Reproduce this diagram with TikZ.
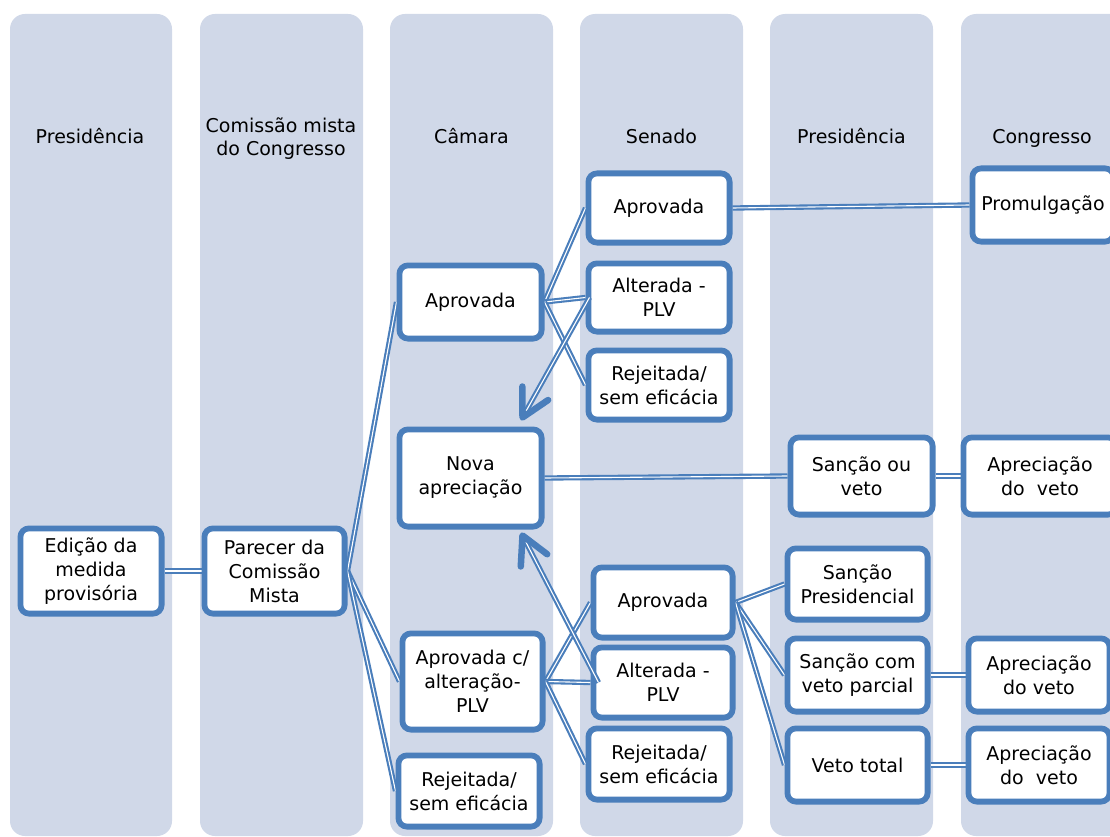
\documentclass[tikz,border=0pt]{standalone}
\usepackage{fontspec}
\setmainfont{DejaVu Sans}
\usetikzlibrary{calc}
\definecolor{colbg}{HTML}{D0D8E8}
\definecolor{bc}{HTML}{4A7EBB}
\pgfdeclarelayer{bg}
\pgfsetlayers{bg,main}
\tikzset{
 bx/.style={draw=bc, line width=5pt, fill=white, rounded corners=9pt, inner sep=0pt, align=center, font=\fontsize{19}{24}\selectfont},
 inb/.style={draw=bc, line width=1.2pt, rounded corners=6pt},
 hdr/.style={align=center, font=\fontsize{19}{23}\selectfont},
 colrect/.style={fill=colbg, rounded corners=15pt},
 con/.style={draw=bc, line width=2.1pt, double=white, double distance=1.1pt},
 chev/.style={draw=bc, line width=6.5pt, line cap=round, line join=round},
}
\newcommand\mybox[6]{%
 \node[bx, minimum width=#4pt, minimum height=#5pt] (#1) at (#2,#3) {#6};
 \draw[inb] ($(#1.north west)+(5.3,5.3)$) rectangle ($(#1.south east)+(-5.3,-5.3)$);
}
\begin{document}
\begin{tikzpicture}[x=1pt,y=-1pt]
\useasboundingbox (0,0) rectangle (1110,837);
\clip (0,0) rectangle (1110,837);
\begin{pgfonlayer}{bg}
\fill[white] (0,0) rectangle (1110,837);
\fill[colrect] (10,14) rectangle (172,836);
\fill[colrect] (200,14) rectangle (363,836);
\fill[colrect] (390,14) rectangle (553,836);
\fill[colrect] (580,14) rectangle (743,836);
\fill[colrect] (770,14) rectangle (933,836);
\fill[colrect] (961,14) rectangle (1140,836);
\end{pgfonlayer}
% headers
\node[hdr, anchor=base] (h1) at (90,144) {Presidência};
\node[hdr] (h2) at (281,138.5) {Comissão mista\\do Congresso};
\node[hdr, anchor=base] (h3) at (471.5,144) {Câmara};
\node[hdr, anchor=base] (h4) at (661.5,144) {Senado};
\node[hdr, anchor=base] (h5) at (851.5,144) {Presidência};
\node[hdr, anchor=base] (h6) at (1042,144) {Congresso};
% boxes
\mybox{ed}{91}{571}{142}{86}{Edição da\\medida\\provisória}
\mybox{pa}{274.5}{571}{141}{86}{Parecer da\\Comissão\\Mista}
\mybox{ca1}{470.5}{302}{143}{74}{Aprovada}
\mybox{nova}{470.5}{478}{143}{98}{Nova\\apreciação}
\mybox{ca2}{472.5}{681.5}{141}{97}{Aprovada c/\\alteração-\\PLV}
\mybox{ca3}{469}{791}{142}{72}{Rejeitada/\\sem eficácia}
\mybox{sa1}{659}{208}{142}{70}{Aprovada}
\mybox{sa2}{659}{297.5}{142}{69}{Alterada -\\PLV}
\mybox{sa3}{659}{385}{142}{70}{Rejeitada/\\sem eficácia}
\mybox{sb1}{663}{602.5}{140}{71}{Aprovada}
\mybox{sb2}{663}{682.5}{140}{71}{Alterada -\\PLV}
\mybox{sb3}{659}{764}{142}{72}{Rejeitada/\\sem eficácia}
\mybox{prom}{1043}{205}{142}{74}{Promulgação}
\mybox{sv}{861.5}{476}{143}{78}{Sanção ou\\veto}
\mybox{av1}{1040}{476}{154}{78}{Apreciação\\do\ \ veto}
\mybox{sp}{857.5}{584}{141}{72}{Sanção\\Presidencial}
\mybox{svp}{857.5}{675}{141}{74}{Sanção com\\veto parcial}
\mybox{vt}{857.5}{765}{141}{74}{Veto total}
\mybox{av2}{1039}{675}{142}{74}{Apreciação\\do veto}
\mybox{av3}{1039}{765}{142}{74}{Apreciação\\do\ \ veto}
\coordinate (t1) at ($(nova.north east)+(-22,-9)$);
\coordinate (t2) at ($(nova.south east)+(-22,6)$);
\begin{pgfonlayer}{bg}
\draw[con] (ed.east) -- (pa.west);
\draw[con] (pa.east) -- (ca1.west);
\draw[con] (pa.east) -- (ca2.west);
\draw[con] (pa.east) -- (ca3.west);
\draw[con] (ca1.east) -- (sa1.west);
\draw[con] (ca1.east) -- (sa2.west);
\draw[con] (ca1.east) -- (sa3.west);
\draw[con] (sa1.east) -- (prom.west);
\draw[con] (nova.east) -- (sv.west);
\draw[con] (sv.east) -- (av1.west);
\draw[con] (ca2.east) -- (sb1.west);
\draw[con] (ca2.east) -- (sb2.west);
\draw[con] (ca2.east) -- (sb3.west);
\draw[con] (sb1.east) -- (sp.west);
\draw[con] (sb1.east) -- (svp.west);
\draw[con] (sb1.east) -- (vt.west);
\draw[con] (svp.east) -- (av2.west);
\draw[con] (vt.east) -- (av3.west);
\end{pgfonlayer}
% return arrows
\draw[con] ($(sa2.west)+(4,0)$) -- (t1);
\draw[chev] ($(t1)!31pt!28:(sa2.west)$) -- (t1) -- ($(t1)!31pt!-28:(sa2.west)$);
\draw[con] ($(sb2.west)+(8,0)$) -- (t2);
\draw[chev] ($(t2)!31pt!28:(sb2.west)$) -- (t2) -- ($(t2)!31pt!-28:(sb2.west)$);
\end{tikzpicture}
\end{document}
